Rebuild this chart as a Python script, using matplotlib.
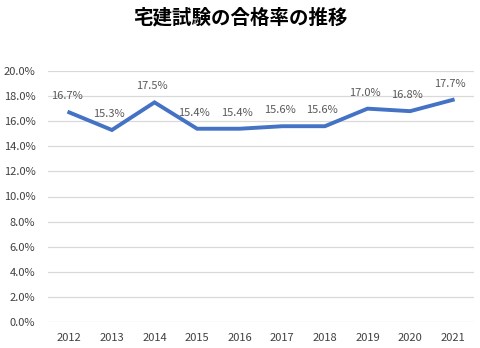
import matplotlib.pyplot as plt
import numpy as np
from matplotlib.ticker import FuncFormatter

plt.rcParams['font.family'] = ['Noto Sans CJK JP', 'DejaVu Sans']

years = ['2012', '2013', '2014', '2015', '2016', '2017', '2018', '2019', '2020', '2021']
rates = [16.7, 15.3, 17.5, 15.4, 15.4, 15.6, 15.6, 17.0, 16.8, 17.7]

W, H = 480, 348
fig = plt.figure(figsize=(W / 100, H / 100), dpi=100)
ax = fig.add_axes([48 / W, 1 - 322 / H, (474 - 48) / W, (322 - 71) / H])

x = np.arange(len(years))
ax.plot(x, rates, color='#4472C4', linewidth=2.8, solid_joinstyle='miter', zorder=3)
for xi, r in zip(x, rates):
    ax.annotate(f'{r:.1f}%', (xi, r), xytext=(-2, 8), textcoords='offset points',
                ha='center', va='bottom', fontsize=8, color='#595959')

ax.set_xlim(-0.5, len(years) - 0.5)
ax.set_ylim(0, 20)
ax.set_yticks(np.arange(0, 21, 2))
ax.yaxis.set_major_formatter(FuncFormatter(lambda v, p: f'{v:.1f}%'))
ax.set_xticks(x)
ax.set_xticklabels(years)
ax.grid(axis='y', color='#D9D9D9', linewidth=0.9)
ax.set_axisbelow(True)
for s in ax.spines.values():
    s.set_visible(False)
ax.tick_params(length=0, labelsize=8, labelcolor='#404040')
ax.tick_params(axis='x', pad=8)
ax.tick_params(axis='y', pad=9)

fig.text(0.5, 1 - 18 / H, '宅建試験の合格率の推移', ha='center', va='center',
         fontsize=14, fontweight='bold', color='#000000')

fig.savefig('out.png', dpi=100)
